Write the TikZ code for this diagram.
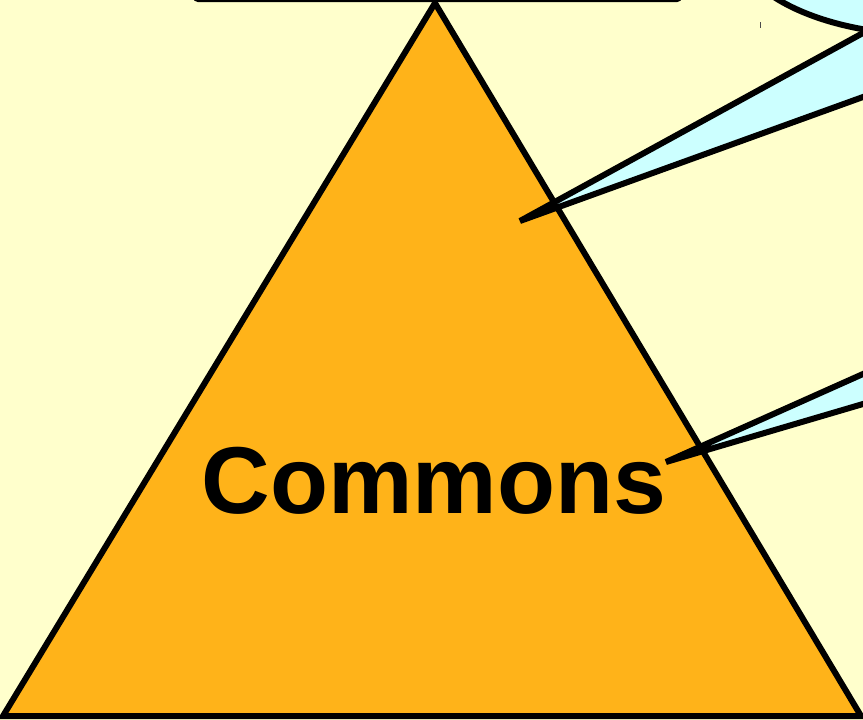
\documentclass[tikz,border=0pt]{standalone}
\usepackage{fontspec}
\setmainfont{Liberation Sans}
\usetikzlibrary{calc}
\definecolor{bgyellow}{HTML}{FFFFCC}
\definecolor{pyramid}{HTML}{FFB319}
\definecolor{callout}{HTML}{CCFFFF}
\begin{document}
\begin{tikzpicture}[x=1pt,y=-1pt,
  outline/.style={draw=black,line width=6pt},
  bubble/.style={fill=callout}]
\useasboundingbox (0,0) rectangle (863,720);
\fill[bgyellow] (0,0) rectangle (863,720);
\clip (0,0) rectangle (863,720);
% top box (cut off)
\draw[line width=4pt,rounded corners=3pt] (195,-100) rectangle (680,0);
% pyramid
\coordinate (apex) at (435,3);
\coordinate (bl) at (3,716);
\coordinate (br) at (861,716);
\filldraw[fill=pyramid,draw=black,line width=6pt,line join=miter] (apex) -- (br) -- (bl) -- cycle;
\node[font=\bfseries\fontsize{95}{95}\selectfont,anchor=base] (commons) at (434,513) {Commons};
% callout ellipse (top right)
\coordinate (ell) at (930,-60);
\filldraw[bubble,outline] (ell) ellipse[x radius=195,y radius=95];
% tail 1
\coordinate (tipA) at (520,221);
\coordinate (tAu) at (863,33);
\coordinate (tAl) at (863,97);
\fill[bubble] (tipA) -- ($(tipA)!1.1!(tAu)$) -- ($(tipA)!1.1!(tAl)$) -- cycle;
\draw[outline,line cap=round] ($(tipA)!1.1!(tAu)$) -- (tipA) -- ($(tipA)!1.1!(tAl)$);
% tail 2
\coordinate (tipB) at (666,462);
\coordinate (tBu) at (863,374);
\coordinate (tBl) at (863,404);
\fill[bubble] (tipB) -- ($(tipB)!1.1!(tBu)$) -- ($(tipB)!1.1!(tBl)$) -- cycle;
\draw[outline,line cap=round] ($(tipB)!1.1!(tBu)$) -- (tipB) -- ($(tipB)!1.1!(tBl)$);
% small tick
\draw[gray!60!black,line width=1pt] (760,22) -- (760,28);
\end{tikzpicture}
\end{document}
